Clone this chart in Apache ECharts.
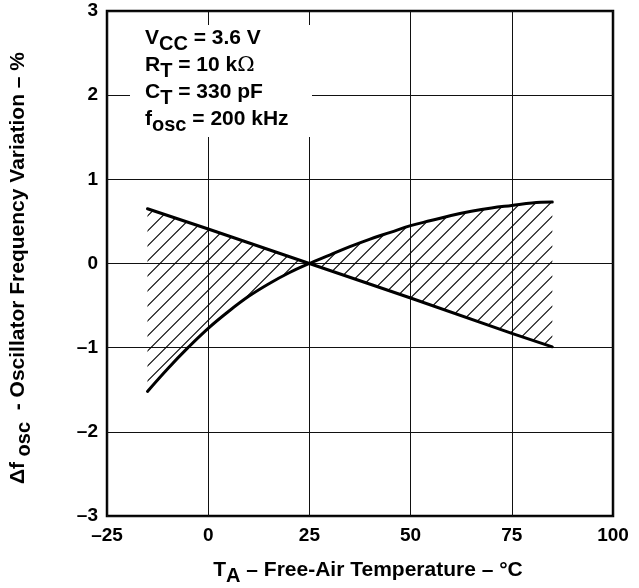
<!DOCTYPE html>
<html><head><meta charset="utf-8">
<script src="https://cdn.jsdelivr.net/npm/echarts@6/dist/echarts.min.js"></script>
<style>html,body{margin:0;padding:0;background:#fff}#c{width:639px;height:588px}</style>
</head><body><div id="c"></div>
<script>
// Lower (curved) characteristic
const temps = [-15,-10,-5,0,5,10,15,20,25,30,35,40,45,50,55,60,65,70,75,80,85];
const lowerCurve = [-1.52,-1.25,-1.0,-0.77,-0.57,-0.39,-0.24,-0.11,0,0.10,0.20,0.29,0.37,0.45,0.51,0.57,0.62,0.66,0.69,0.72,0.73];
// Upper (near straight) characteristic
const upperTemps = [-15,0,25,50,75,85];
const upperLine = [0.65,0.41,0,-0.41,-0.83,-0.99];
// Axis ticks
const xTicks = {min:-25, max:100, step:25};
const yTicks = {min:-3, max:3, step:1};

const FONT = 'Liberation Sans, Arial, sans-serif';

const chart = echarts.init(document.getElementById('c'), null, {renderer:'canvas'});
const dash = v => String(v).replace('-', '\u2013');
function rich(sz){
  return {
    n:{fontSize:sz,fontWeight:'bold',fontFamily:FONT,color:'#000',lineHeight:27},
    s:{fontSize:sz-1,fontWeight:'bold',fontFamily:FONT,color:'#000',lineHeight:27,padding:[12,0,0,0]},
    o:{fontSize:sz,fontWeight:'normal',fontFamily:'DejaVu Serif, serif',color:'#000',lineHeight:27}
  };
}

chart.setOption({
  animation:false,
  grid:{left:107,right:26,top:11,bottom:72,show:true,borderColor:'#000',borderWidth:2.5,backgroundColor:'transparent'},
  xAxis:{type:'value',min:xTicks.min,max:xTicks.max,interval:xTicks.step,
    axisLine:{show:false},axisTick:{show:false},
    splitLine:{show:true,lineStyle:{color:'#111',width:1}},
    axisLabel:{formatter:dash,fontSize:19,fontWeight:'bold',fontFamily:FONT,color:'#000',margin:10}},
  yAxis:{type:'value',min:yTicks.min,max:yTicks.max,interval:yTicks.step,
    axisLine:{show:false},axisTick:{show:false},
    splitLine:{show:true,lineStyle:{color:'#111',width:1}},
    axisLabel:{formatter:dash,fontSize:19,fontWeight:'bold',fontFamily:FONT,color:'#000',margin:9}},
  series:[
    {type:'custom',z:1,clip:false,data:[[0,0]],
     renderItem:function(params,api){
       const pts=[];
       for(let i=0;i<upperTemps.length;i++) pts.push(api.coord([upperTemps[i],upperLine[i]]));
       for(let i=temps.length-1;i>=0;i--) pts.push(api.coord([temps[i],lowerCurve[i]]));
       let minX=Infinity,maxX=-Infinity,minY=Infinity,maxY=-Infinity;
       pts.forEach(p=>{minX=Math.min(minX,p[0]);maxX=Math.max(maxX,p[0]);minY=Math.min(minY,p[1]);maxY=Math.max(maxY,p[1]);});
       const H = maxY-minY;
       const children=[];
       for(let x=minX-H-2; x<=maxX+2; x+=15){
         children.push({type:'line',shape:{x1:x,y1:maxY+1,x2:x+H+2,y2:minY-1},
           style:{stroke:'#000',lineWidth:1.1}});
       }
       return {type:'group',clipPath:{type:'polygon',shape:{points:pts}},children:children};
     }},
    {type:'line',z:3,showSymbol:false,smooth:0.4,data:temps.map((t,i)=>[t,lowerCurve[i]]),
     lineStyle:{color:'#000',width:3,cap:'round',join:'round'}},
    {type:'line',z:3,showSymbol:false,smooth:false,data:upperTemps.map((t,i)=>[t,upperLine[i]]),
     lineStyle:{color:'#000',width:3,cap:'round',join:'round'}}
  ],
  graphic:[
    {type:'rect',z:10,shape:{x:130,y:25,width:182,height:112},style:{fill:'#fff'}},
    {type:'text',z:11,x:145,y:25,style:{
      text:'{n|V}{s|CC}{n| = 3.6 V}\n{n|R}{s|T}{n| = 10 k}{o|\u03A9}\n{n|C}{s|T}{n| = 330 pF}\n{n|f}{s|osc}{n| = 200 kHz}',
      textAlign:'left',textVerticalAlign:'top',rich:rich(21)}},
    {type:'text',z:11,x:368,y:570,style:{
      text:'{n|T}{s|A}{n| \u2013 Free-Air Temperature \u2013 \u00B0C}',
      textAlign:'center',textVerticalAlign:'middle',rich:rich(21)}},
    {type:'text',z:11,x:18,y:268,rotation:Math.PI/2,style:{
      text:'{n|\u0394f}{s| osc}{n|  - Oscillator Frequency Variation \u2013 %}',
      textAlign:'center',textVerticalAlign:'middle',rich:rich(21)}}
  ]
});
</script></body></html>
